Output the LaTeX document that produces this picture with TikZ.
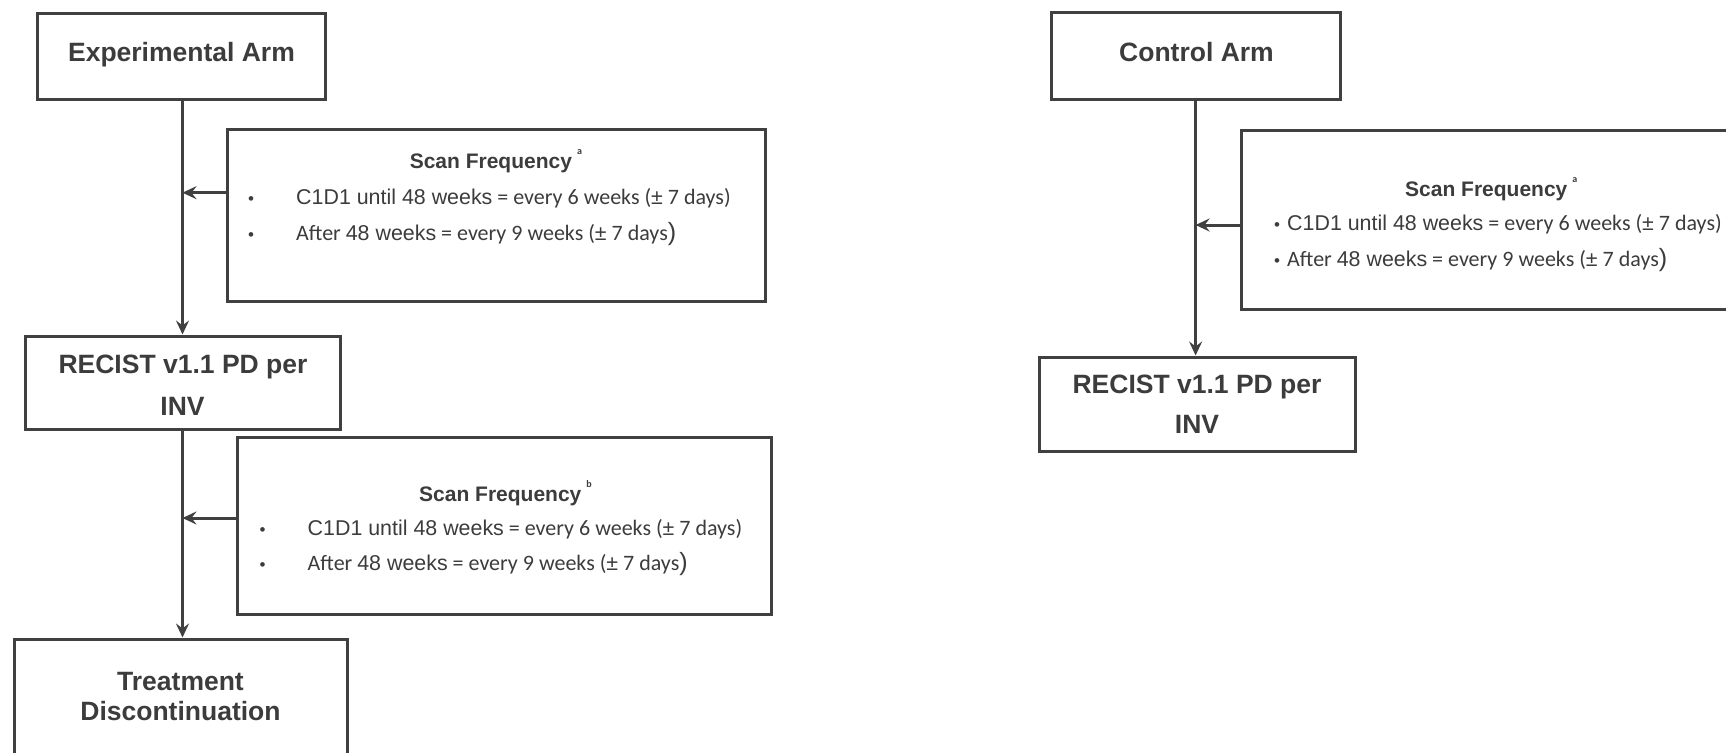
\documentclass[tikz,border=0pt]{standalone}
\usepackage{fontspec}
\setmainfont{Liberation Sans}
\newfontfamily\calfont{Carlito}
\usetikzlibrary{arrows.meta}
\definecolor{ink}{HTML}{3C3C3C}
\definecolor{edge}{HTML}{404040}
\newcommand\arialpart[1]{{\fontsize{21.4}{24}\selectfont #1}}
\newcommand\calpart[1]{{\calfont\fontsize{22}{24}\selectfont #1}}
\newcommand\bigparen{{\fontsize{25}{24}\selectfont )}}
\newcommand\supmark[1]{\hspace{5pt}\raisebox{14pt}{\calfont\fontsize{10}{10}\selectfont #1}}
\newcommand\lineone{\arialpart{C1D1 until 48 weeks}\calpart{ = every 6 weeks (}\arialpart{±}\calpart{ 7 days)}}
\newcommand\linetwo{\calpart{After }\arialpart{48 weeks}\calpart{ = every 9 weeks (}\arialpart{±}\calpart{ 7 days}\bigparen}
\begin{document}
\begin{tikzpicture}[x=1pt,y=-1pt,
  box/.style={draw=edge, line width=3pt, inner sep=0pt, fill=none},
  bt/.style={font=\bfseries\fontsize{26.5}{30}\selectfont, text=ink, inner sep=0pt, anchor=base},
  st/.style={font=\bfseries\fontsize{21}{24}\selectfont, text=ink, inner sep=0pt, anchor=base west},
  lt/.style={text=ink, inner sep=0pt, anchor=base west},
  bul/.style={text=ink, inner sep=0pt, anchor=base, font=\fontsize{17}{20}\selectfont},
  conn/.style={draw=edge, line width=3pt},
  arr/.style={draw=edge, line width=3pt, -{Stealth[length=14pt,width=13pt,inset=5pt]}}]
\useasboundingbox[fill=white] (0,0) rectangle (1726,752);

% ---------- Experimental arm ----------
\node[box, minimum width=288pt, minimum height=86pt] (exp) at (181,56.3) {};
\node[bt] (expt) at (181.5,61.7) {Experimental Arm};

\node[box, minimum width=538pt, minimum height=172pt] (s1) at (496,215.5) {};
\node[st] (s1t) at (409.6,168) {Scan Frequency\supmark{a}};
\node[bul] (s1b1) at (251,204) {•};
\node[lt] (s1l1) at (296,204) {\lineone};
\node[bul] (s1b2) at (251,240) {•};
\node[lt] (s1l2) at (296,240) {\linetwo};

\node[box, minimum width=315pt, minimum height=93pt] (rec1) at (182.5,382.5) {};
\node[bt] (rec1a) at (183,373) {RECIST v1.1 PD per};
\node[bt] (rec1b) at (182.5,415) {INV};

\node[box, minimum width=533.5pt, minimum height=176.5pt] (s2) at (504.25,525.75) {};
\node[st] (s2t) at (419,501.7) {Scan Frequency\supmark{b}};
\node[bul] (s2b1) at (262.5,535) {•};
\node[lt] (s2l1) at (307.5,535) {\lineone};
\node[bul] (s2b2) at (262.5,570) {•};
\node[lt] (s2l2) at (307.5,570) {\linetwo};

\node[box, minimum width=333pt, minimum height=200pt] (trt) at (180.5,739) {};
\node[bt] (trta) at (180.5,690.7) {Treatment};
\node[bt] (trtb) at (180.5,720.7) {Discontinuation};

\coordinate (j1) at (182.5,192.7);
\coordinate (s1a) at (227,192.7);
\coordinate (j2) at (182.5,518);
\coordinate (s2a) at (237.5,518);

\draw[arr] (exp.south -| j1) -- (rec1.north -| j1);
\draw[arr] (s1a) -- (j1);
\draw[arr] (rec1.south -| j2) -- (trt.north -| j2);
\draw[arr] (s2a) -- (j2);

% ---------- Control arm ----------
\node[box, minimum width=289pt, minimum height=87pt] (ctl) at (1196.4,56.3) {};
\node[bt] (ctlt) at (1196.5,61.7) {Control Arm};

\node[box, minimum width=520pt, minimum height=179pt] (s3) at (1501.7,219.5) {};
\node[st] (s3t) at (1405,196) {Scan Frequency\supmark{a}};
\node[bul] (s3b1) at (1277,230.7) {•};
\node[lt] (s3l1) at (1287,230.7) {\lineone};
\node[bul] (s3b2) at (1277,266.7) {•};
\node[lt] (s3l2) at (1287,266.7) {\linetwo};

\node[box, minimum width=316pt, minimum height=94pt] (rec2) at (1197,404) {};
\node[bt] (rec2a) at (1197,393) {RECIST v1.1 PD per};
\node[bt] (rec2b) at (1197,433) {INV};

\coordinate (j3) at (1195.6,225);
\coordinate (s3a) at (1241.7,225);
\draw[arr] (ctl.south -| j3) -- (rec2.north -| j3);
\draw[arr] (s3a) -- (j3);
\end{tikzpicture}
\end{document}
